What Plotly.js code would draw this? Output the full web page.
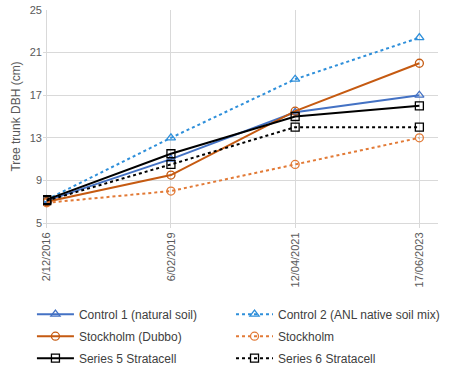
<!DOCTYPE html>
<html>
<head>
<meta charset="utf-8">
<script src="https://cdn.plot.ly/plotly-3.0.1.min.js"></script>
<style>html,body{margin:0;padding:0;background:#fff;}#chart{width:451px;height:370px;}</style>
</head>
<body>
<div id="chart"></div>
<script>
const dates = ["2/12/2016", "6/02/2019", "12/04/2021", "17/06/2023"];
const control1 = [7.1, 11.0, 15.4, 17.0];
const control2 = [7.2, 13.0, 18.5, 22.4];
const stockholmDubbo = [7.0, 9.5, 15.5, 20.0];
const stockholm = [6.9, 8.0, 10.5, 13.0];
const series5 = [7.2, 11.5, 15.0, 16.0];
const series6 = [7.1, 10.5, 14.0, 14.0];
const names = ["Control 1 (natural soil)", "Control 2 (ANL native soil mix)", "Stockholm (Dubbo)", "Stockholm", "Series 5 Stratacell", "Series 6 Stratacell"];
const yTicks = [5, 9, 13, 17, 21, 25];

function tr(y, name, color, dash, symbol, msize, leg) {
  return {
    x: dates, y: y, name: name, type: 'scatter', mode: 'lines+markers',
    legend: leg, legendgroup: name,
    line: {color: color, width: 2, dash: dash},
    marker: {symbol: symbol, size: msize, color: color, line: {color: color, width: 1.3}}
  };
}
const data = [
  tr(control1, names[0], '#4472C4', 'solid', 'triangle-up-open', 8, 'legend'),
  tr(control2, names[1], '#2E8FDA', 'dot', 'triangle-up-open', 8, 'legend2'),
  tr(stockholmDubbo, names[2], '#C55A11', 'solid', 'circle-open', 8, 'legend'),
  tr(stockholm, names[3], '#E27A36', 'dot', 'circle-open', 8, 'legend2'),
  tr(series5, names[4], '#000000', 'solid', 'square-open', 8, 'legend'),
  tr(series6, names[5], '#000000', 'dot', 'square-open', 8, 'legend2')
];
const legCommon = {
  orientation: 'v', xref: 'paper', yref: 'paper', xanchor: 'left', y: -0.36, yanchor: 'top',
  itemwidth: 37, font: {size: 12, color: '#404040'}, traceorder: 'grouped', tracegroupgap: 3,
  bgcolor: 'rgba(0,0,0,0)'
};
const layout = {
  width: 451, height: 370,
  margin: {l: 43, r: 13, t: 10, b: 147, autoexpand: false},
  paper_bgcolor: '#fff', plot_bgcolor: '#fff',
  font: {family: 'Liberation Sans, Arial, sans-serif', size: 11, color: '#595959'},
  showlegend: true,
  legend: Object.assign({}, legCommon, {x: -0.028}),
  legend2: Object.assign({}, legCommon, {x: 0.476}),
  xaxis: {
    type: 'category', range: [-0.03, 3.15], tickangle: -90, automargin: false,
    showgrid: true, gridcolor: '#D9D9D9', gridwidth: 1,
    showline: true, linecolor: '#D9D9D9', linewidth: 1,
    ticks: 'outside', ticklen: 4, tickcolor: '#D9D9D9',
    tickfont: {size: 11, color: '#595959'}, zeroline: false
  },
  yaxis: {
    range: [5, 25], tickvals: yTicks, ticktext: yTicks.map(String), automargin: false,
    showgrid: true, gridcolor: '#D9D9D9', gridwidth: 1,
    showline: false, zeroline: false, ticks: '',
    tickfont: {size: 11, color: '#595959'},
    title: {text: 'Tree trunk DBH (cm)', font: {size: 12, color: '#595959'}, standoff: 6}
  }
};
Plotly.newPlot('chart', data, layout, {displayModeBar: false, staticPlot: true});
</script>
</body>
</html>
